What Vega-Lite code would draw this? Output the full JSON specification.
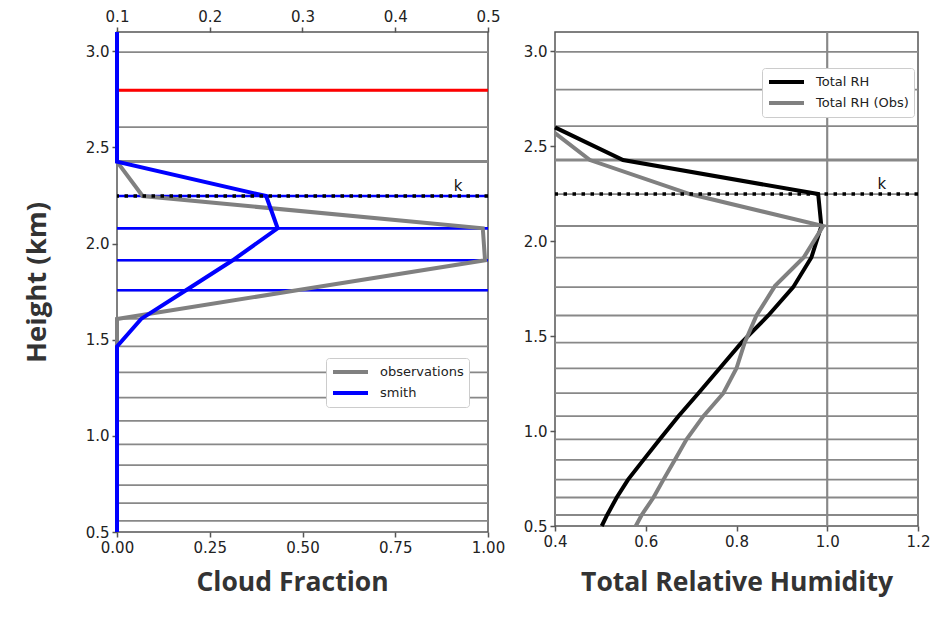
{
  "$schema": "https://vega.github.io/schema/vega-lite/v6.json",
  "background": "white",
  "padding": {"left": 22, "top": 8, "right": 5, "bottom": 5},
  "config": {
    "view": {"stroke": "#555", "strokeWidth": 1.5},
    "axis": {
      "labelFont": "DejaVu Sans", "labelFontSize": 15, "labelColor": "#222", "labelFlush": false,
      "tickColor": "#555", "tickSize": 5, "tickWidth": 1.5, "labelPadding": 3,
      "domain": false, "grid": false,
      "titleFont": "Open Sans", "titleFontSize": 26.5, "titleFontWeight": "bold", "titleColor": "#333"
    },
    "legend": {
      "symbolType": "stroke", "symbolStrokeWidth": 4, "symbolSize": 1225,
      "labelFont": "DejaVu Sans", "labelFontSize": 13, "labelColor": "#222", "labelOffset": 10,
      "fillColor": "white", "strokeColor": "#ccc", "cornerRadius": 3, "padding": 5,
      "clipHeight": 18, "rowPadding": 3
    },
    "concat": {"spacing": 16}
  },
  "datasets": {
    "levels": [
      {"h": 2.995, "kind": "level", "cloud": false, "k": false},
      {"h": 2.797, "kind": "ref", "cloud": false, "k": false},
      {"h": 2.605, "kind": "level", "cloud": false, "k": false},
      {"h": 2.426, "kind": "top", "cloud": false, "k": false},
      {"h": 2.247, "kind": "level", "cloud": true, "k": true},
      {"h": 2.079, "kind": "level", "cloud": true, "k": false},
      {"h": 1.913, "kind": "level", "cloud": true, "k": false},
      {"h": 1.757, "kind": "level", "cloud": true, "k": false},
      {"h": 1.608, "kind": "level", "cloud": false, "k": false},
      {"h": 1.465, "kind": "level", "cloud": false, "k": false},
      {"h": 1.33, "kind": "level", "cloud": false, "k": false},
      {"h": 1.199, "kind": "level", "cloud": false, "k": false},
      {"h": 1.078, "kind": "level", "cloud": false, "k": false},
      {"h": 0.956, "kind": "level", "cloud": false, "k": false},
      {"h": 0.848, "kind": "level", "cloud": false, "k": false},
      {"h": 0.744, "kind": "level", "cloud": false, "k": false},
      {"h": 0.65, "kind": "level", "cloud": false, "k": false},
      {"h": 0.558, "kind": "level", "cloud": false, "k": false}
    ],
    "cf": [
      {"series": "observations", "h": 3.1, "cf": 0},
      {"series": "observations", "h": 2.426, "cf": 0},
      {"series": "observations", "h": 2.247, "cf": 0.069},
      {"series": "observations", "h": 2.079, "cf": 0.986},
      {"series": "observations", "h": 1.913, "cf": 0.992},
      {"series": "observations", "h": 1.757, "cf": 0.485},
      {"series": "observations", "h": 1.608, "cf": 0},
      {"series": "observations", "h": 0.5, "cf": 0},
      {"series": "smith", "h": 3.1, "cf": 0},
      {"series": "smith", "h": 2.426, "cf": 0},
      {"series": "smith", "h": 2.247, "cf": 0.402},
      {"series": "smith", "h": 2.079, "cf": 0.433},
      {"series": "smith", "h": 1.913, "cf": 0.312},
      {"series": "smith", "h": 1.757, "cf": 0.186},
      {"series": "smith", "h": 1.608, "cf": 0.065},
      {"series": "smith", "h": 1.465, "cf": 0},
      {"series": "smith", "h": 0.5, "cf": 0}
    ],
    "rh": [
      {"series": "Total RH", "h": 2.598, "rh": 0.4},
      {"series": "Total RH", "h": 2.426, "rh": 0.55},
      {"series": "Total RH", "h": 2.247, "rh": 0.98},
      {"series": "Total RH", "h": 2.079, "rh": 0.987},
      {"series": "Total RH", "h": 1.913, "rh": 0.965},
      {"series": "Total RH", "h": 1.757, "rh": 0.925},
      {"series": "Total RH", "h": 1.608, "rh": 0.87},
      {"series": "Total RH", "h": 1.465, "rh": 0.811},
      {"series": "Total RH", "h": 1.33, "rh": 0.763},
      {"series": "Total RH", "h": 1.199, "rh": 0.716},
      {"series": "Total RH", "h": 1.078, "rh": 0.672},
      {"series": "Total RH", "h": 0.956, "rh": 0.631},
      {"series": "Total RH", "h": 0.848, "rh": 0.595},
      {"series": "Total RH", "h": 0.744, "rh": 0.561},
      {"series": "Total RH", "h": 0.65, "rh": 0.536},
      {"series": "Total RH", "h": 0.558, "rh": 0.515},
      {"series": "Total RH", "h": 0.5, "rh": 0.503},
      {"series": "Total RH (Obs)", "h": 2.568, "rh": 0.4},
      {"series": "Total RH (Obs)", "h": 2.426, "rh": 0.477},
      {"series": "Total RH (Obs)", "h": 2.247, "rh": 0.697},
      {"series": "Total RH (Obs)", "h": 2.079, "rh": 0.991},
      {"series": "Total RH (Obs)", "h": 1.913, "rh": 0.948},
      {"series": "Total RH (Obs)", "h": 1.764, "rh": 0.885},
      {"series": "Total RH (Obs)", "h": 1.608, "rh": 0.844},
      {"series": "Total RH (Obs)", "h": 1.465, "rh": 0.818},
      {"series": "Total RH (Obs)", "h": 1.33, "rh": 0.8},
      {"series": "Total RH (Obs)", "h": 1.199, "rh": 0.771},
      {"series": "Total RH (Obs)", "h": 1.078, "rh": 0.727},
      {"series": "Total RH (Obs)", "h": 0.956, "rh": 0.69},
      {"series": "Total RH (Obs)", "h": 0.848, "rh": 0.664},
      {"series": "Total RH (Obs)", "h": 0.744, "rh": 0.639},
      {"series": "Total RH (Obs)", "h": 0.65, "rh": 0.617},
      {"series": "Total RH (Obs)", "h": 0.558, "rh": 0.591},
      {"series": "Total RH (Obs)", "h": 0.5, "rh": 0.578}
    ],
    "klabels": [
      {"panel": "cf", "x": 0.908, "h": 2.247, "label": "k"},
      {"panel": "rh", "x": 1.111, "h": 2.247, "label": "k"}
    ],
    "topaxis": [{"t": 0.1}, {"t": 0.5}]
  },
  "hconcat": [
    {
      "width": 371,
      "height": 500,
      "layer": [
        {
          "layer": [
            {
              "data": {"name": "levels"},
              "mark": {"type": "rule", "color": "#888", "strokeWidth": 1.8},
              "encoding": {
                "y": {"field": "h", "type": "quantitative",
                  "scale": {"domain": [0.5, 3.1], "nice": false, "zero": false},
                  "axis": {"values": [0.5, 1, 1.5, 2, 2.5, 3], "format": ".1f", "title": "Height (km)", "titlePadding": 34, "titleFontSize": 27.5}}
              }
            },
            {
              "data": {"name": "levels"},
              "transform": [{"filter": "datum.kind == 'top'"}],
              "mark": {"type": "rule", "color": "#888", "strokeWidth": 3},
              "encoding": {"y": {"field": "h", "type": "quantitative"}}
            },
            {
              "data": {"name": "levels"},
              "transform": [{"filter": "datum.kind == 'ref'"}],
              "mark": {"type": "rule", "color": "#ff0000", "strokeWidth": 3},
              "encoding": {"y": {"field": "h", "type": "quantitative"}}
            },
            {
              "data": {"name": "levels"},
              "transform": [{"filter": "datum.cloud"}],
              "mark": {"type": "rule", "color": "#0000ff", "strokeWidth": 2.6},
              "encoding": {"y": {"field": "h", "type": "quantitative"}}
            },
            {
              "data": {"name": "cf"},
              "mark": {"type": "line", "strokeWidth": 4},
              "encoding": {
                "x": {"field": "cf", "type": "quantitative",
                  "scale": {"domain": [0, 1], "nice": false},
                  "axis": {"values": [0, 0.25, 0.5, 0.75, 1], "format": ".2f", "title": "Cloud Fraction", "titlePadding": 14, "titleX": 175}},
                "y": {"field": "h", "type": "quantitative"},
                "order": {"field": "h", "type": "quantitative"},
                "color": {"field": "series", "type": "nominal",
                  "scale": {"domain": ["observations", "smith"], "range": ["#808080", "#0000ff"]},
                  "legend": {"title": null, "orient": "none", "legendX": 209, "legendY": 326}}
              }
            },
            {
              "data": {"name": "levels"},
              "transform": [{"filter": "datum.k"}],
              "mark": {"type": "rule", "color": "#000", "strokeWidth": 3.5, "strokeDash": [3.5, 5.5]},
              "encoding": {"y": {"field": "h", "type": "quantitative"}}
            },
            {
              "data": {"name": "klabels"},
              "transform": [{"filter": "datum.panel == 'cf'"}],
              "mark": {"type": "text", "font": "DejaVu Sans", "fontSize": 15, "color": "#111", "align": "left", "baseline": "alphabetic", "dy": -5},
              "encoding": {
                "x": {"field": "x", "type": "quantitative"},
                "y": {"field": "h", "type": "quantitative"},
                "text": {"field": "label"}
              }
            }
          ]
        },
        {
          "data": {"name": "topaxis"},
          "mark": {"type": "point", "opacity": 0},
          "encoding": {
            "x": {"field": "t", "type": "quantitative",
              "scale": {"domain": [0.1, 0.5], "nice": false, "zero": false},
              "axis": {"orient": "top", "values": [0.1, 0.2, 0.3, 0.4, 0.5], "format": ".1f", "title": null}}
          }
        }
      ],
      "resolve": {"scale": {"x": "independent"}}
    },
    {
      "width": 363,
      "height": 494,
      "layer": [
        {
          "data": {"name": "levels"},
          "mark": {"type": "rule", "color": "#888", "strokeWidth": 1.8},
          "encoding": {
            "y": {"field": "h", "type": "quantitative",
              "scale": {"domain": [0.5, 3.1], "nice": false, "zero": false},
              "axis": {"values": [0.5, 1, 1.5, 2, 2.5, 3], "format": ".1f", "title": null}}
          }
        },
        {
          "data": {"name": "levels"},
          "transform": [{"filter": "datum.kind == 'top'"}],
          "mark": {"type": "rule", "color": "#888", "strokeWidth": 3},
          "encoding": {"y": {"field": "h", "type": "quantitative"}}
        },
        {
          "data": {"name": "topaxis"},
          "mark": {"type": "rule", "color": "#888", "strokeWidth": 1.8},
          "encoding": {"x": {"datum": 1.0, "type": "quantitative"}}
        },
        {
          "data": {"name": "rh"},
          "mark": {"type": "line", "strokeWidth": 4},
          "encoding": {
            "x": {"field": "rh", "type": "quantitative",
              "scale": {"domain": [0.4, 1.2], "nice": false, "zero": false},
              "axis": {"values": [0.4, 0.6, 0.8, 1.0, 1.2], "format": ".1f", "title": "Total Relative Humidity", "titlePadding": 20}},
            "y": {"field": "h", "type": "quantitative"},
            "order": {"field": "h", "type": "quantitative"},
            "color": {"field": "series", "type": "nominal",
              "scale": {"domain": ["Total RH", "Total RH (Obs)"], "range": ["#000000", "#808080"]},
              "legend": {"title": null, "orient": "none", "legendX": 207, "legendY": 36}}
          }
        },
        {
          "data": {"name": "levels"},
          "transform": [{"filter": "datum.k"}],
          "mark": {"type": "rule", "color": "#000", "strokeWidth": 3.5, "strokeDash": [3.5, 5.5]},
          "encoding": {"y": {"field": "h", "type": "quantitative"}}
        },
        {
          "data": {"name": "klabels"},
          "transform": [{"filter": "datum.panel == 'rh'"}],
          "mark": {"type": "text", "font": "DejaVu Sans", "fontSize": 15, "color": "#111", "align": "left", "baseline": "alphabetic", "dy": -5},
          "encoding": {
            "x": {"field": "x", "type": "quantitative"},
            "y": {"field": "h", "type": "quantitative"},
            "text": {"field": "label"}
          }
        }
      ]
    }
  ],
  "resolve": {"scale": {"color": "independent"}, "legend": {"color": "independent"}}
}
